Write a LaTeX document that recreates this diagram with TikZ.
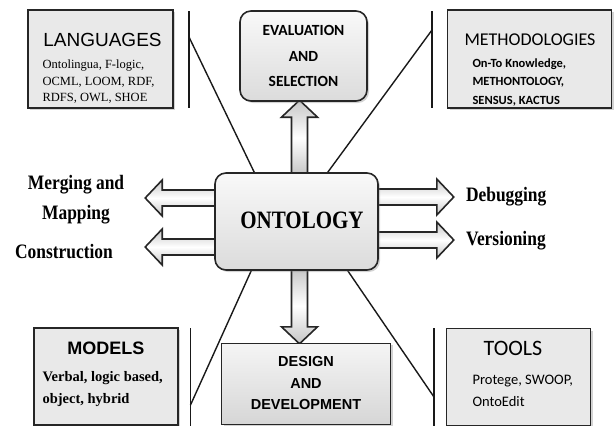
\documentclass[tikz,border=0pt]{standalone}
\usepackage{fontspec}
\usepackage{tikz}
\usetikzlibrary{calc,shadows,backgrounds}
\newfontfamily\arialfont{Liberation Sans}
\newfontfamily\timesfont{Liberation Serif}
\newfontfamily\calibrifont{Carlito}

\tikzset{
  pics/fatarrow/.style={code={
    \path[arrowbody] (-3,-8) -- ({#1-17},-8) -- ({#1-17},-18) -- (#1,0)
      -- ({#1-17},18) -- ({#1-17},8) -- (-3,8) -- cycle;
  }},
}

\begin{document}
\begin{tikzpicture}[x=1pt,y=-1pt,
  box/.style={draw=black!85, line width=1.6pt, fill=gray!17, inner sep=0pt,
    drop shadow={shadow xshift=2pt,shadow yshift=-2pt,opacity=0.35}},
  roundbox/.style={box, rounded corners=11pt, top color=gray!5, bottom color=gray!28},
  bevelbox/.style={box, line width=1pt, top color=gray!8, bottom color=gray!32},
  bar/.style={line width=1.4pt, black!90},
  arrowbody/.style={draw=black!85, line width=1.6pt, top color=gray!45,
    bottom color=gray!45, middle color=white},
  side/.style={font=\timesfont\bfseries\fontsize{20.5}{30}\selectfont, xscale=0.85, transform shape},
]
\useasboundingbox (0,0) rectangle (614,426);

% the six boxes
\node[box, minimum width=145pt, minimum height=98pt] (lang) at (100.5,59) {};
\node[font=\arialfont\fontsize{19}{19}\selectfont] (langtitle) at (102.5,40) {LANGUAGES};
\node[anchor=west, align=left, font=\timesfont\fontsize{12.5}{16.5}\selectfont] (langtext)
  at (39,82) {Ontolingua, F-logic,\\OCML, LOOM, RDF,\\RDFS, OWL, SHOE};

\node[box, minimum width=164pt, minimum height=98pt] (meth) at (529.5,59) {};
\node[font=\calibrifont\fontsize{18}{18}\selectfont] (methtitle) at (530,40) {METHODOLOGIES};
\node[anchor=west, align=left, font=\calibrifont\bfseries\fontsize{12.5}{18.5}\selectfont] (methtext)
  at (469,82) {On-To Knowledge,\\METHONTOLOGY,\\SENSUS, KACTUS};

\node[box, minimum width=144pt, minimum height=97pt] (models) at (106,376.5) {};
\node[font=\arialfont\bfseries\fontsize{18}{18}\selectfont] (modelstitle) at (106,348) {MODELS};
\node[anchor=west, align=left, font=\timesfont\bfseries\fontsize{14.5}{22}\selectfont] (modelstext)
  at (39,389) {Verbal, logic based,\\object, hybrid};

\node[box, minimum width=144pt, minimum height=97pt] (tools) at (518.5,377) {};
\node[font=\calibrifont\fontsize{22}{22}\selectfont] (toolstitle) at (513,348) {TOOLS};
\node[anchor=west, align=left, font=\calibrifont\fontsize{14.5}{22}\selectfont] (toolstext)
  at (469,391) {Protege, SWOOP,\\OntoEdit};

\node[roundbox, minimum width=127pt, minimum height=90pt, align=center,
  font=\calibrifont\bfseries\fontsize{15.5}{25.5}\selectfont] (eval) at (303.5,56)
  {EVALUATION\\AND\\SELECTION};

\node[bevelbox, minimum width=169pt, minimum height=81pt, align=center,
  font=\arialfont\bfseries\fontsize{14.5}{21.5}\selectfont] (design) at (306,383.5)
  {DESIGN\\AND\\DEVELOPMENT};

\node[roundbox, minimum width=163pt, minimum height=97pt] (onto) at (296.5,221.5) {};
\node[font=\timesfont\bfseries\fontsize{25}{25}\selectfont, xscale=0.84, transform shape]
  (ontotitle) at (302,220.5) {ONTOLOGY};

% side labels
\node[side, align=center] (merge) at (76,200) {Merging and\\Mapping};
\node[side] (constr) at (64,252) {Construction};
\node[side, anchor=west] (debug) at (463,197) {Debugging};
\node[side, anchor=west] (vers) at (463,241) {Versioning};

% brackets
\coordinate (tl top) at (189,11);   \coordinate (tl bot) at (189,108);   \coordinate (tl knee) at (189,37);
\coordinate (tr top) at (432,11);   \coordinate (tr bot) at (432,108);   \coordinate (tr knee) at (432,30);
\coordinate (bl top) at (190.5,328); \coordinate (bl bot) at (190.5,430); \coordinate (bl knee) at (190.5,405);
\coordinate (br top) at (434,328);  \coordinate (br bot) at (434,430);  \coordinate (br knee) at (434,397);

\begin{scope}[on background layer]
\draw[bar] (tl top) -- (tl bot);
\draw[bar] (tl knee) -- ($(onto.north west)+(40,0)$);
\draw[bar] (tr top) -- (tr bot);
\draw[bar] (tr knee) -- ($(onto.north east)+(-51,0)$);
\draw[bar] (bl top) -- (bl bot);
\draw[bar] (bl knee) -- ($(onto.south west)+(37,0)$);
\draw[bar] (br top) -- (br bot);
\draw[bar] (br knee) -- ($(onto.south east)+(-31,0)$);

% block arrows out of the ontology box
\pic[rotate=180] at ($(onto.west)+(0,-23.5)$) {fatarrow=69};
\pic[rotate=180] at ($(onto.west)+(0,25.5)$) {fatarrow=69};
\pic at ($(onto.east)+(0,-24.5)$) {fatarrow=75};
\pic at ($(onto.east)+(0,18.5)$) {fatarrow=75};
\pic[rotate=90] at ($(onto.north)+(3,0)$) {fatarrow=72};
\pic[rotate=-90] at ($(onto.south)+(3,0)$) {fatarrow=73};
\end{scope}

\end{tikzpicture}
\end{document}
